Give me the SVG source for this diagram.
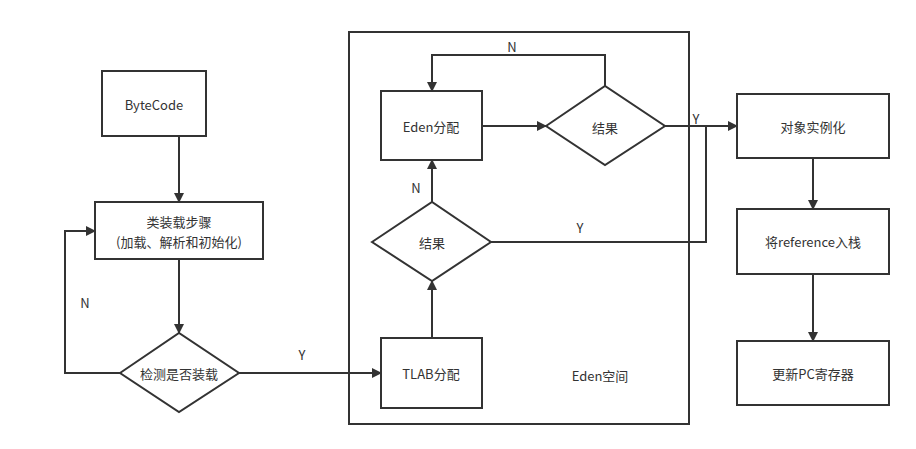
<svg xmlns="http://www.w3.org/2000/svg" width="916" height="449" viewBox="0 0 916 449">
<style>
.n{fill:#fff;stroke:#333;stroke-width:2}
.c{fill:none;stroke:#333;stroke-width:2}
text{font-family:"Noto Sans CJK SC","Noto Sans",sans-serif;font-size:13px;fill:#333;text-anchor:middle;dominant-baseline:central}
</style>
<defs><marker id="a" markerWidth="10" markerHeight="10" refX="9" refY="5" orient="auto" markerUnits="userSpaceOnUse"><path d="M0,0L10,5L0,10z" fill="#333"/></marker></defs>
<rect width="916" height="449" fill="#fff"/>
<g id="eden-space"><rect x="349" y="32" width="340" height="392" class="n"/><text x="600" y="375">Eden空间</text></g>
<g id="bytecode"><rect x="102" y="71" width="104" height="65" class="n"/><text x="154" y="104">ByteCode</text></g>
<g id="load"><rect x="95" y="202" width="168" height="57" class="n"/><text x="179" y="221">类装载步骤</text><text x="179" y="241">(加载、解析和初始化)</text></g>
<g id="check"><path d="M120,373L179,333L239,373L179,412z" class="n"/><text x="179" y="373">检测是否装载</text></g>
<g id="tlab"><rect x="381" y="338" width="101" height="70" class="n"/><text x="431" y="373">TLAB分配</text></g>
<g id="res2"><path d="M372,242L432,202L491,242L432,281z" class="n"/><text x="432" y="242">结果</text></g>
<g id="edenalloc"><rect x="381" y="91" width="101" height="69" class="n"/><text x="431" y="126">Eden分配</text></g>
<g id="res1"><path d="M546,126L605,86L665,126L605,165z" class="n"/><text x="605" y="127">结果</text></g>
<g id="inst"><rect x="737" y="94" width="152" height="64" class="n"/><text x="813" y="126">对象实例化</text></g>
<g id="push"><rect x="737" y="209" width="152" height="65" class="n"/><text x="813" y="241">将reference入栈</text></g>
<g id="pc"><rect x="737" y="341" width="152" height="64" class="n"/><text x="813" y="373">更新PC寄存器</text></g>
<g id="connectors">
<path d="M179,136V202" class="c" marker-end="url(#a)"/>
<path d="M179,259V333" class="c" marker-end="url(#a)"/>
<path d="M120,373H65V231H95" class="c" marker-end="url(#a)"/>
<path d="M239,373H381" class="c" marker-end="url(#a)"/>
<path d="M432,338V281" class="c" marker-end="url(#a)"/>
<path d="M432,202V160" class="c" marker-end="url(#a)"/>
<path d="M491,242H706V126" class="c"/>
<path d="M482,126H546" class="c" marker-end="url(#a)"/>
<path d="M605,86V55H432V91" class="c" marker-end="url(#a)"/>
<path d="M665,126H737" class="c" marker-end="url(#a)"/>
<path d="M813,158V209" class="c" marker-end="url(#a)"/>
<path d="M813,274V341" class="c" marker-end="url(#a)"/>
<text x="85" y="302">N</text><text x="302" y="354">Y</text>
<text x="416" y="187">N</text><text x="512" y="46">N</text>
<text x="696" y="118">Y</text><text x="580" y="227">Y</text>
</g>
</svg>
